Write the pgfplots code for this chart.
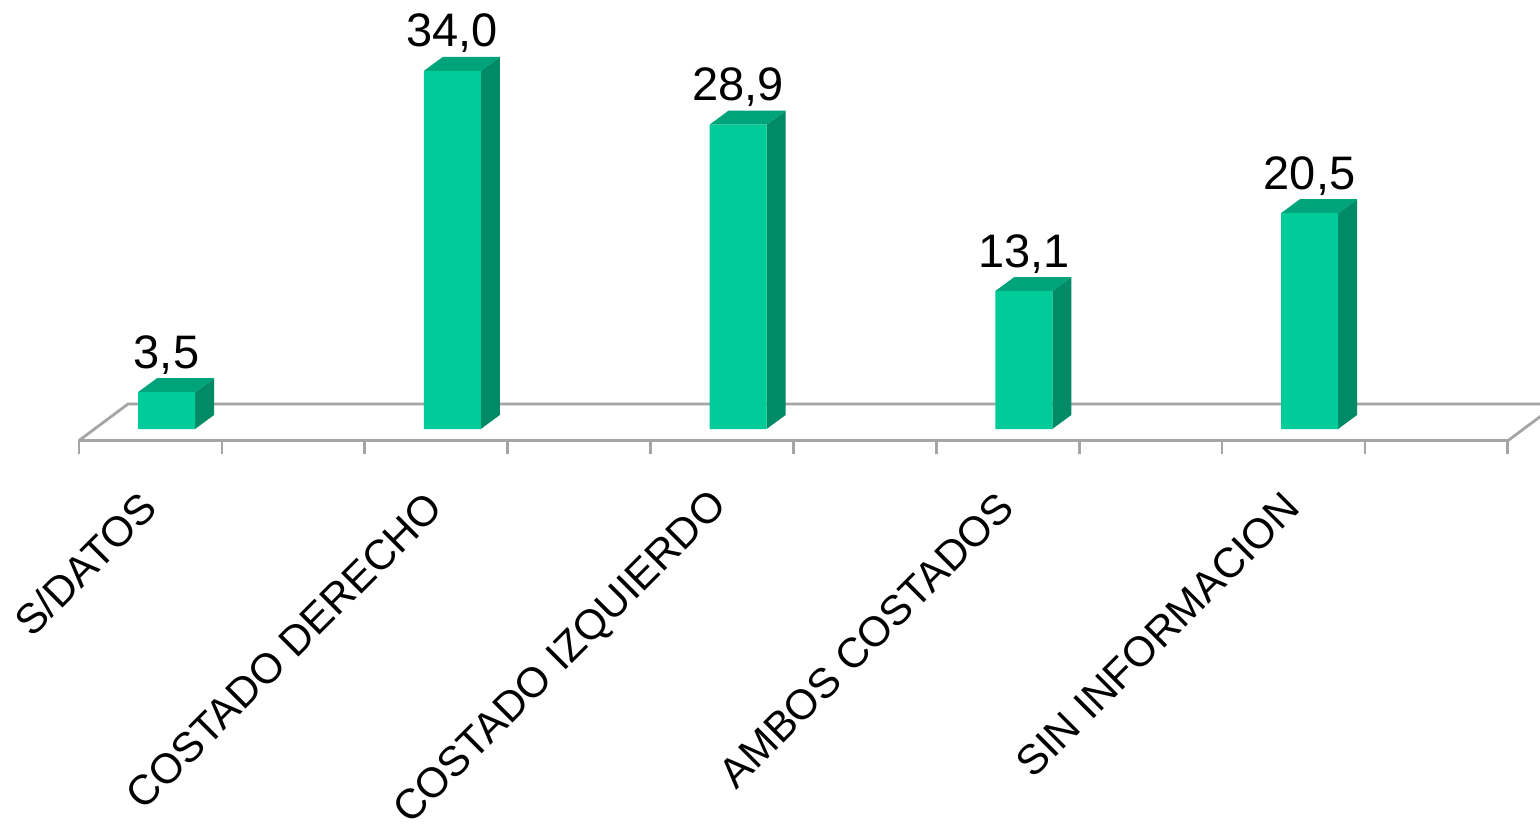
\documentclass[border=0pt]{standalone}
\usepackage{fontspec}
\setmainfont{Liberation Sans}
\usepackage{pgfplots}
\pgfplotsset{compat=1.18}
\definecolor{frontc}{RGB}{0,204,153}
\definecolor{sidec}{RGB}{0,138,102}
\definecolor{topc}{RGB}{0,164,122}
\definecolor{floorc}{RGB}{165,165,165}
\begin{document}
\begin{tikzpicture}
\begin{axis}[
  width=770pt, height=250pt, scale only axis,
  xmin=-0.5827, xmax=4.8066, ymin=-6.74, ymax=40.74,
  axis line style={draw=none},
  major tick length=0pt,
  ytick=\empty,
  xtick={-0.060,0.940,1.940,2.940,3.940},
  xticklabels={S/DATOS,COSTADO DERECHO,COSTADO IZQUIERDO,AMBOS COSTADOS,SIN INFORMACION},
  xticklabel style={font=\fontsize{21}{24}\selectfont, rotate=45, anchor=east, inner sep=0pt},
  /pgf/number format/assume math mode=true,
]
% floor
\addplot[floorc, line width=1.4pt, line join=round] coordinates {
  (-0.306,-1.09) (4.695,-1.09) (4.866,2.37) (-0.135,2.37) (-0.306,-1.09)};
% floor ticks
\addplot[floorc, line width=1.4pt, unbounded coords=jump] coordinates {
  (-0.306,-1.09) (-0.306,-2.33) (-0.306,nan)
  (0.194,-1.09) (0.194,-2.33) (0.194,nan)
  (0.694,-1.09) (0.694,-2.33) (0.694,nan)
  (1.194,-1.09) (1.194,-2.33) (1.194,nan)
  (1.694,-1.09) (1.694,-2.33) (1.694,nan)
  (2.194,-1.09) (2.194,-2.33) (2.194,nan)
  (2.694,-1.09) (2.694,-2.33) (2.694,nan)
  (3.194,-1.09) (3.194,-2.33) (3.194,nan)
  (3.694,-1.09) (3.694,-2.33) (3.694,nan)
  (4.194,-1.09) (4.194,-2.33) (4.194,nan)
  (4.694,-1.09) (4.694,-2.33)};
% side faces
\addplot[fill=sidec, draw=none] coordinates {(0.0998,0) (0.1663,1.33) (0.1663,4.83) (0.0998,3.5)} --cycle;
\addplot[fill=sidec, draw=none] coordinates {(1.0998,0) (1.1663,1.33) (1.1663,35.33) (1.0998,34.0)} --cycle;
\addplot[fill=sidec, draw=none] coordinates {(2.0998,0) (2.1663,1.33) (2.1663,30.23) (2.0998,28.9)} --cycle;
\addplot[fill=sidec, draw=none] coordinates {(3.0998,0) (3.1663,1.33) (3.1663,14.43) (3.0998,13.1)} --cycle;
\addplot[fill=sidec, draw=none] coordinates {(4.0998,0) (4.1663,1.33) (4.1663,21.83) (4.0998,20.5)} --cycle;
% top faces
\addplot[fill=topc, draw=none] coordinates {(-0.0998,3.5) (-0.0333,4.83) (0.1663,4.83) (0.0998,3.5)} --cycle;
\addplot[fill=topc, draw=none] coordinates {(0.9002,34.0) (0.9667,35.33) (1.1663,35.33) (1.0998,34.0)} --cycle;
\addplot[fill=topc, draw=none] coordinates {(1.9002,28.9) (1.9667,30.23) (2.1663,30.23) (2.0998,28.9)} --cycle;
\addplot[fill=topc, draw=none] coordinates {(2.9002,13.1) (2.9667,14.43) (3.1663,14.43) (3.0998,13.1)} --cycle;
\addplot[fill=topc, draw=none] coordinates {(3.9002,20.5) (3.9667,21.83) (4.1663,21.83) (4.0998,20.5)} --cycle;
% front faces
\addplot[ybar, bar width=28.5pt, bar shift=0pt, fill=frontc, draw=none,
  nodes near coords={\pgfmathprintnumber[fixed,fixed zerofill,precision=1,use comma]{\pgfplotspointmeta}},
  every node near coord/.append style={font=\fontsize{23.5}{27}\selectfont, anchor=base, inner sep=0pt, yshift=12pt, black}]
  coordinates {(0,3.5) (1,34.0) (2,28.9) (3,13.1) (4,20.5)};
\coordinate (bbBL) at (axis cs:-0.5827,-37.51);
\coordinate (bbTR) at (axis cs:4.8066,40.74);
\end{axis}
\pgfresetboundingbox
\useasboundingbox (bbBL) rectangle (bbTR);
\end{tikzpicture}
\end{document}
